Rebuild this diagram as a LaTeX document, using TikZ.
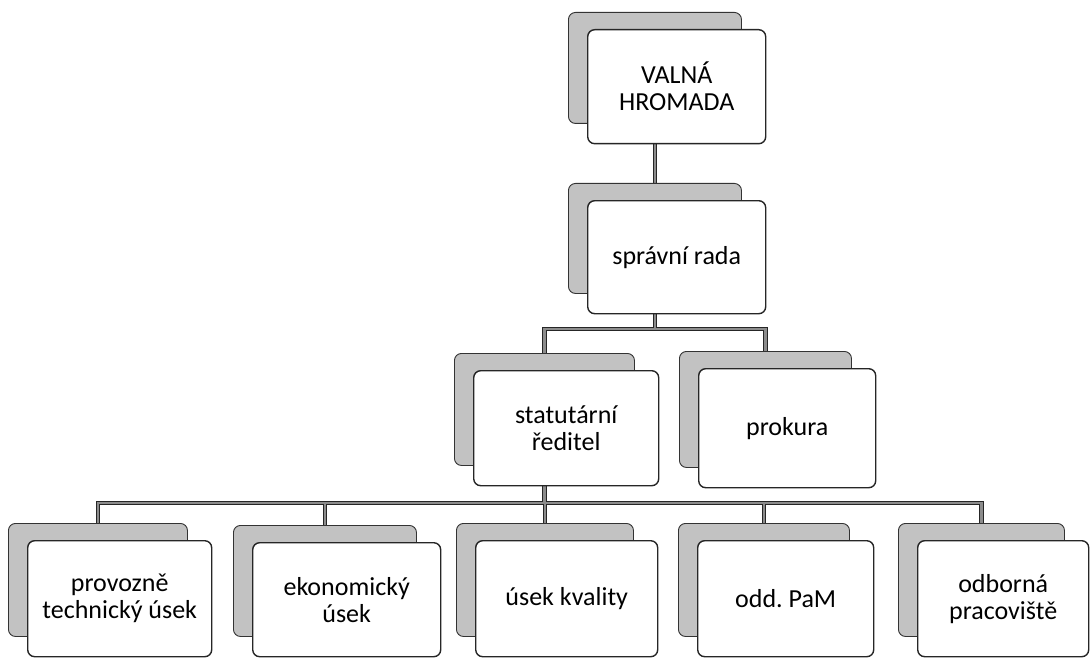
\documentclass[tikz,border=0pt]{standalone}
\usepackage{fontspec}
\setmainfont{Carlito}
\pgfdeclarelayer{bg}
\pgfsetlayers{bg,main}
\newcommand\orgbox[6]{%
  \node[shbox, anchor=north west, minimum width={(#4)-(#2)-5}, minimum height={(#5)-(#3)-3}] (s#1) at ({#2-19},{#3-17}) {};
  \node[frbox, anchor=north west, minimum width={(#4)-(#2)}, minimum height={(#5)-(#3)}] (#1) at (#2,#3) {#6};}
\begin{document}
\frenchspacing
\begin{tikzpicture}[x=1pt,y=-1pt,
  shbox/.style={draw=black!80, line width=0.9pt, fill=black!24, rounded corners=7pt, inner sep=0pt},
  frbox/.style={draw=black!85, line width=1.4pt, fill=white, rounded corners=7pt, align=center, inner sep=2pt, font=\fontsize{26}{27}\selectfont},
  cout/.style={line width=4.6pt, draw=black!85, line join=miter},
  cin/.style={line width=2.2pt, draw=black!45, line join=miter}]
\useasboundingbox (0,0) rectangle (1090,658);
\orgbox{vh}{587}{29}{765}{143}{VALNÁ\\HROMADA}
\orgbox{sr}{587}{200}{765}{313}{správní rada}
\orgbox{st}{473}{370}{658}{485}{statutární\\ředitel}
\orgbox{pk}{698}{368}{875}{487}{prokura}
\orgbox{pt}{27}{540}{211}{656}{provozně\\technický úsek}
\orgbox{ek}{252}{542}{440}{656}{ekonomický\\úsek}
\orgbox{uk}{475}{540}{657}{656}{úsek kvality}
\orgbox{pm}{697}{540}{873}{656}{odd. PaM}
\orgbox{op}{917}{540}{1088}{656}{odborná\\pracoviště}
\coordinate (b1) at (0,329);
\coordinate (b2) at (0,503);
\begin{pgfonlayer}{bg}
\foreach \st in {cout,cin}{
  \draw[\st] (svh.center |- vh.south) -- (ssr.north);
  \draw[\st] (ssr.center |- sr.south) -- (ssr.center |- b1);
  \draw[\st] (sst.north) -- (sst.north |- b1) -- (spk.north |- b1) -- (spk.north);
  \draw[\st] (sst.center |- st.south) -- (sst.center |- b2);
  \draw[\st] (spt.north) -- (spt.north |- b2) -- (sop.north |- b2) -- (sop.north);
  \draw[\st] (sek.north) -- (sek.north |- b2);
  \draw[\st] (suk.north) -- (suk.north |- b2);
  \draw[\st] (spm.north) -- (spm.north |- b2);
}
\end{pgfonlayer}
\end{tikzpicture}
\end{document}
